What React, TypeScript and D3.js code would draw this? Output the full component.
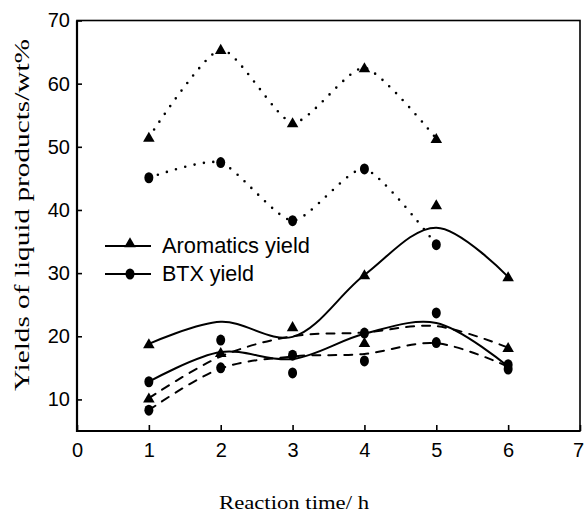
import React from "react";
import { useRef, useEffect } from "react";
import * as d3 from "d3";

// reaction time (h)
const hours = [1, 2, 3, 4, 5, 6];
const xTicks = [0, 1, 2, 3, 4, 5, 6, 7];
const yTicks = [10, 20, 30, 40, 50, 60, 70];

const aromSolid = [18.8, null, 21.5, 29.7, 40.8, 29.4];
const btxSolid = [12.8, 19.4, 17.0, 20.5, 23.7, 15.5];
const aromDashed = [10.2, 17.4, null, 19.0, null, 18.2];
const btxDashed = [8.3, 15.0, 14.2, 16.1, 19.0, 14.8];
const aromDotted = [51.5, 65.4, 53.8, 62.5, 51.3];
const btxDotted = [45.1, 47.5, 38.3, 46.5, 34.5];

// smoothed trend lines drawn through the points
const aromSolidFit = [18.8, 22.3, 19.9, 29.7, 37.2, 29.4];
const btxSolidFit = [12.8, 17.5, 16.4, 20.4, 22.1, 15.2];
const aromDashedFit = [10.2, 16.8, 20.0, 20.6, 21.6, 18.2];
const btxDashedFit = [8.3, 14.9, 16.8, 17.2, 18.9, 15.2];

const legendLabels = ["Aromatics yield", "BTX yield"];

export default function App() {
  const svgRef = useRef(null);

  useEffect(() => {
    const svg = d3.select(svgRef.current);
    svg.selectAll("*").remove();

    const x = d3.scaleLinear().domain([0, 7]).range([77, 580]);
    const y = d3.scaleLinear().domain([5, 70]).range([431, 20.5]);

    // frame: left/bottom a bit heavier than top/right
    svg.append("rect")
      .attr("x", x(0)).attr("y", y(70))
      .attr("width", x(7) - x(0)).attr("height", y(5) - y(70))
      .attr("fill", "none").attr("stroke", "#000").attr("stroke-width", 1.6);
    svg.append("path")
      .attr("d", `M${x(0)},${y(70)}V${y(5)}H${x(7)}`)
      .attr("fill", "none").attr("stroke", "#000").attr("stroke-width", 2.2);

    //axes, ticks pointing inwards
    const yAxis = d3.axisLeft(y).tickValues(yTicks).tickFormat(d3.format("d"))
      .tickSizeInner(-5).tickSizeOuter(0).tickPadding(7);
    const gy = svg.append("g").attr("transform", `translate(${x(0)},0)`).call(yAxis);
    const xAxis = d3.axisBottom(x).tickValues(xTicks).tickFormat(d3.format("d"))
      .tickSizeInner(-6).tickSizeOuter(0).tickPadding(12);
    const gx = svg.append("g").attr("transform", `translate(0,${y(5)})`).call(xAxis);
    [gx, gy].forEach(g => {
      g.select(".domain").remove();
      g.selectAll("line").attr("stroke", "#000").attr("stroke-width", 1.6);
      g.selectAll("text")
        .attr("font-family", "'Liberation Sans', Arial, sans-serif")
        .attr("font-size", 20)
        .attr("fill", "#000");
    });
    gx.selectAll("text").filter(d => d === 7).attr("dx", -2);

    // axis titles
    svg.append("text")
      .attr("x", 294).attr("y", 509)
      .attr("text-anchor", "middle")
      .attr("font-family", "'Liberation Serif', 'DejaVu Serif', serif")
      .attr("font-size", 19)
      .attr("textLength", 150).attr("lengthAdjust", "spacingAndGlyphs")
      .text("Reaction time/ h");
    svg.append("text")
      .attr("transform", "translate(29,215) rotate(-90)")
      .attr("text-anchor", "middle")
      .attr("font-family", "'Liberation Serif', 'DejaVu Serif', serif")
      .attr("font-size", 20)
      .attr("textLength", 352).attr("lengthAdjust", "spacingAndGlyphs")
      .text("Yields of liquid products/wt%");

    const line = d3.line()
      .x((d, i) => x(hours[i]))
      .y(d => y(d))
      .curve(d3.curveCatmullRom.alpha(0.5));

    const dottedLine = d3.line()
      .x((d, i) => x(hours[i]))
      .y(d => y(d))
      .curve(d3.curveCardinal.tension(0.35));

    const drawLine = (gen, vals, dash, width) => {
      svg.append("path")
        .attr("d", gen(vals))
        .attr("fill", "none")
        .attr("stroke", "#000")
        .attr("stroke-width", width)
        .attr("stroke-linecap", "round")
        .attr("stroke-dasharray", dash);
    };

    drawLine(dottedLine, aromDotted, "0 9.5", 2.6);
    drawLine(dottedLine, btxDotted, "0 9.5", 2.6);
    drawLine(line, aromSolidFit, null, 2);
    drawLine(line, btxSolidFit, null, 2);
    drawLine(line, aromDashedFit, "8 8", 2);
    drawLine(line, btxDashedFit, "8 8", 2);

    const tri = d3.symbol().type(d3.symbolTriangle).size(58);

    const drawTriangles = vals => {
      svg.append("g").selectAll("path")
        .data(vals.map((v, i) => [hours[i], v]).filter(d => d[1] != null))
        .enter()
        .append("path")
        .attr("d", tri)
        .attr("transform", d => `translate(${x(d[0])},${y(d[1]) + 1})`)
        .attr("fill", "#000");
    };
    const drawCircles = vals => {
      svg.append("g").selectAll("ellipse")
        .data(vals.map((v, i) => [hours[i], v]).filter(d => d[1] != null))
        .enter()
        .append("ellipse")
        .attr("cx", d => x(d[0]))
        .attr("cy", d => y(d[1]))
        .attr("rx", 4.5)
        .attr("ry", 5.5)
        .attr("fill", "#000");
    };

    drawTriangles(aromDotted);
    drawTriangles(aromSolid);
    drawTriangles(aromDashed);
    drawCircles(btxDotted);
    drawCircles(btxSolid);
    drawCircles(btxDashed);

    // legend
    const legend = svg.append("g");
    legendLabels.forEach((label, i) => {
      const ly = 246 + i * 28;
      legend.append("line")
        .attr("x1", 105).attr("x2", 151).attr("y1", ly).attr("y2", ly)
        .attr("stroke", "#000").attr("stroke-width", 2);
      if (i === 0) {
        legend.append("path").attr("d", tri).attr("transform", `translate(130,${ly - 2})`);
      } else {
        legend.append("ellipse").attr("cx", 130).attr("cy", ly).attr("rx", 4.5).attr("ry", 5.5);
      }
      legend.append("text")
        .attr("x", 162).attr("y", ly + 7)
        .attr("font-family", "'Liberation Sans', Arial, sans-serif")
        .attr("font-size", 22)
        .attr("textLength", i === 0 ? 148 : 92).attr("lengthAdjust", "spacingAndGlyphs")
        .text(label);
    });
  }, []);

  return (
    <div>
      <svg ref={svgRef} width={585} height={518}
        style={{ position: "absolute", left: 0, top: 0, background: "#fff" }} />
    </div>
  );
}
